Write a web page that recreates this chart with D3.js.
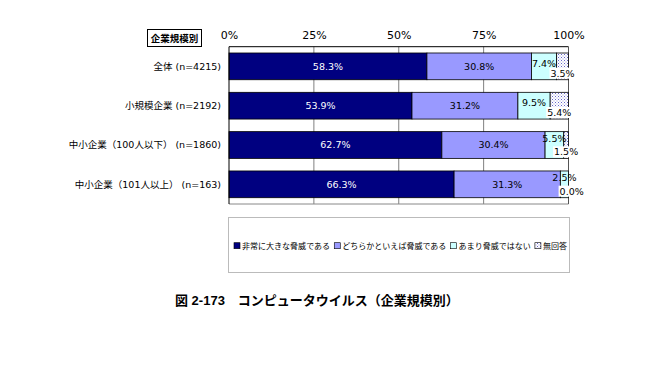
<!DOCTYPE html>
<html><head><meta charset="utf-8">
<script src="https://cdn.jsdelivr.net/npm/d3@7"></script>
<style>
body{margin:0;background:#fff;}
svg text{font-family:"DejaVu Sans","Noto Sans CJK JP",sans-serif;}
</style></head>
<body><svg id="c" width="649" height="367"></svg>
<script>
const categories = ["全体 (n=4215)", "小規模企業 (n=2192)", "中小企業（100人以下） (n=1860)", "中小企業（101人以上） (n=163)"];
const seriesNames = ["非常に大きな脅威である", "どちらかといえば脅威である", "あまり脅威ではない", "無回答"];
const veryThreat = [58.3, 53.9, 62.7, 66.3];
const somewhatThreat = [30.8, 31.2, 30.4, 31.3];
const notMuch = [7.4, 9.5, 5.5, 2.5];
const noAnswer = [3.5, 5.4, 1.5, 0.0];
const tickValues = [0, 25, 50, 75, 100];
const tickLabels = ["0%", "25%", "50%", "75%", "100%"];
const headerLabel = "企業規模別";
const title = "図 2-173　コンピュータウイルス（企業規模別）";

const series = [veryThreat, somewhatThreat, notMuch, noAnswer];
const colors = ["#000080", "#9999FF", "#CCFFFF", "url(#dots)"];
const textColors = ["#fff", "#000", "#000", "#000"];

const svg = d3.select("#c");
const defs = svg.append("defs");
const pat = defs.append("pattern").attr("id","dots").attr("patternUnits","userSpaceOnUse")
  .attr("width",3).attr("height",3);
pat.append("rect").attr("width",3).attr("height",3).attr("fill","#fff");
pat.append("rect").attr("x",0).attr("y",0).attr("width",1).attr("height",1).attr("fill","#6666cc");
pat.append("rect").attr("x",1.5).attr("y",1.5).attr("width",1).attr("height",1).attr("fill","#9999dd");

const L = 229, R = 568.5, T = 46.7, B = 204;
const x = d3.scaleLinear().domain([0,100]).range([L,R]);
const y = d3.scaleBand().domain(categories).range([T,B]).paddingInner(0.32).paddingOuter(0.16);

// gridlines
svg.append("g").selectAll("line").data(tickValues.slice(1,4)).join("line")
  .attr("x1",d=>x(d)).attr("x2",d=>x(d)).attr("y1",T).attr("y2",B)
  .attr("stroke","#808080").attr("stroke-width",1);

// plot border
svg.append("line").attr("x1",L).attr("x2",R).attr("y1",T).attr("y2",T).attr("stroke","#000");
svg.append("line").attr("x1",L).attr("x2",R).attr("y1",B).attr("y2",B).attr("stroke","#888");
svg.append("line").attr("x1",R).attr("x2",R).attr("y1",T).attr("y2",B).attr("stroke","#555");

// top axis labels
const axis = d3.axisTop(x).tickValues(tickValues).tickFormat((d,i)=>tickLabels[i]).tickSize(0).tickPadding(0);
const ax = svg.append("g").attr("transform",`translate(0,38)`).call(axis);
ax.select(".domain").remove();
ax.selectAll("text").attr("font-size",11).attr("fill","#000").attr("dy","0.1em")
  .style("font-family","'DejaVu Sans',sans-serif");

// stacked bars
const stacked = categories.map((c,i)=>{
  let acc = 0;
  return series.map((s,j)=>{ const v=s[i]; const seg={c,j,v,x0:acc,x1:Math.min(100,acc+v)}; acc+=v; return seg; });
});
const rows = svg.append("g").selectAll("g").data(stacked).join("g");
rows.selectAll("rect").data(d=>d).join("rect")
  .attr("x",d=>x(d.x0)).attr("width",d=>Math.max(0,x(d.x1)-x(d.x0)))
  .attr("y",d=>y(d.c)).attr("height",y.bandwidth())
  .attr("fill",d=>colors[d.j]).attr("stroke","#000").attr("stroke-width",0.8);

// left axis line
svg.append("line").attr("x1",L).attr("x2",L).attr("y1",T).attr("y2",B).attr("stroke","#000");

// labels
const lab = svg.append("g");
stacked.forEach(row=>{
  row.forEach(d=>{
    const cx = (x(d.x0)+x(d.x1))/2;
    const top = y(d.c), mid = top + y.bandwidth()/2;
    const txt = d.v.toFixed(1)+"%";
    if (d.j < 2) {
      lab.append("text").attr("x",cx).attr("y",mid).attr("dy","0.35em").attr("text-anchor","middle")
        .attr("font-size",9.5).attr("fill",textColors[d.j]).text(txt);
    } else if (d.j === 2) {
      lab.append("text").attr("x",cx).attr("y",top + (d.v>=6?10.5:7)).attr("dy","0.35em").attr("text-anchor","middle")
        .attr("font-size",9.5).attr("fill","#000").text(txt);
    } else {
      const tx = Math.max(cx, x(d.x0)-2) + (d.v<1?3:0);
      const t = lab.append("text").attr("x",tx).attr("y",mid+7).attr("dy","0.35em").attr("text-anchor","middle")
        .attr("font-size",9.5).attr("fill","#000").text(txt);
      const bb = t.node().getBBox();
      lab.insert("rect", () => t.node()).attr("x",bb.x-1).attr("y",bb.y).attr("width",bb.width+2).attr("height",bb.height).attr("fill","#fff");
    }
  });
});

// category labels
svg.append("g").selectAll("text").data(categories).join("text")
  .attr("x",221).attr("y",d=>y(d)+y.bandwidth()/2).attr("dy","0.35em").attr("text-anchor","end")
  .attr("font-size",9.5).attr("fill","#000").text(d=>d);

// header box
svg.append("rect").attr("x",147.5).attr("y",29.5).attr("width",54).attr("height",17)
  .attr("fill","#fff").attr("stroke","#000").attr("stroke-width",1);
svg.append("text").attr("x",174.5).attr("y",38.5).attr("dy","0.35em").attr("text-anchor","middle")
  .attr("font-size",9.5).attr("font-weight","bold").text(headerLabel);

// legend
svg.append("rect").attr("x",228.5).attr("y",217.5).attr("width",341).attr("height",55)
  .attr("fill","#fff").attr("stroke","#bbb").attr("stroke-width",1);
const lg = svg.append("g");
const baseFs = 10;
const texts = seriesNames.map(n => lg.append("text").attr("y",245.7).attr("dy","0.35em")
    .attr("font-size",baseFs).attr("fill","#000").text(n));
const natural = texts.map(t=>t.node().getComputedTextLength());
const avail = 567 - 234 - seriesNames.length*8 - (seriesNames.length-1)*4;
const k = Math.min(1, avail / d3.sum(natural));
let lx = 234;
seriesNames.forEach((n,j)=>{
  lg.append("rect").attr("x",lx).attr("y",242.7).attr("width",6).attr("height",6)
    .attr("fill",colors[j]).attr("stroke","#000").attr("stroke-width",0.6);
  texts[j].attr("x",lx+8).attr("font-size",baseFs*k);
  lx += 8 + natural[j]*k + 4;
});

// title
svg.append("text").attr("x",175).attr("y",300).attr("dy","0.35em").attr("font-size",13)
  .attr("font-weight","bold").attr("fill","#000")
  .style("font-family","'Liberation Sans','Noto Sans CJK JP',sans-serif")
  .text(title);
</script></body></html>
